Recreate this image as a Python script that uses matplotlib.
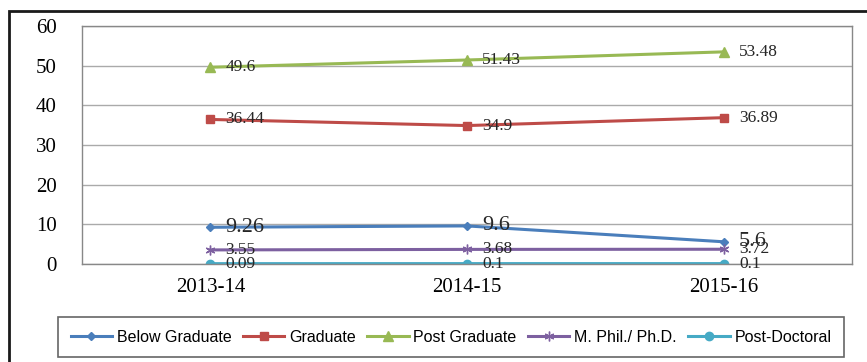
import matplotlib
matplotlib.use('Agg')
import matplotlib.pyplot as plt
from matplotlib.patches import Rectangle

years = ['2013-14', '2014-15', '2015-16']
below_graduate = [9.26, 9.6, 5.6]
graduate = [36.44, 34.9, 36.89]
post_graduate = [49.6, 51.43, 53.48]
mphil_phd = [3.55, 3.68, 3.72]
post_doctoral = [0.09, 0.1, 0.1]

# name, values, colour, marker, marker size, label font size
series = [
    ('Below Graduate', below_graduate, '#4a7ebb', 'D', 4, 16),
    ('Graduate', graduate, '#be4b48', 's', 6, 12.5),
    ('Post Graduate', post_graduate, '#98b954', '^', 7, 12.5),
    ('M. Phil./ Ph.D.', mphil_phd, '#7d60a0', (6, 2, 0), 7, 12.5),
    ('Post-Doctoral', post_doctoral, '#46aac5', 'o', 6, 12.5),
]

fig = plt.figure(figsize=(8.67, 3.62), dpi=100, facecolor='white')
ax = fig.add_axes([82 / 867, 1 - 264 / 362, (852 - 82) / 867, (264 - 26) / 362])

x = list(range(len(years)))
for name, vals, col, mk, ms, fs in series:
    ax.plot(x, vals, color=col, linewidth=2.2, marker=mk, markersize=ms,
            markeredgecolor=col, markerfacecolor=col, label=name)
    for xi, v in zip(x, vals):
        ax.annotate(f'{v:g}', (xi, v), xytext=(11, 0), textcoords='offset points',
                    ha='left', va='center', fontsize=fs,
                    family='Liberation Serif', color='#262626')

ax.set_xlim(-0.5, 2.5)
ax.set_ylim(0, 60)
ax.set_yticks(range(0, 61, 10))
ax.set_xticks(x)
ax.set_xticklabels(years)
ax.tick_params(length=0, labelsize=15, pad=10)
for lab in ax.get_xticklabels() + ax.get_yticklabels():
    lab.set_family('Liberation Serif')
ax.tick_params(axis='y', pad=18)
ax.yaxis.grid(True, color='#aaaaaa', linewidth=1)
ax.set_axisbelow(True)
for spine in ax.spines.values():
    spine.set_edgecolor('#888888')
    spine.set_linewidth(1)

leg = fig.legend(loc='center', bbox_to_anchor=(451 / 867, 1 - 337 / 362),
                 ncol=5, frameon=True, fancybox=False, edgecolor='#404040',
                 handlelength=2.6, columnspacing=0.7, handletextpad=0.3,
                 borderpad=0.8,
                 prop={'family': 'Liberation Sans', 'size': 11.5})
leg.get_frame().set_linewidth(1.2)

fig.patches.append(Rectangle((9 / 867, -0.05), 1.1, 1 - 11 / 362 + 0.05,
                             transform=fig.transFigure, fill=False,
                             edgecolor='#1a1a1a', linewidth=2))

fig.savefig('out.png', dpi=100)
